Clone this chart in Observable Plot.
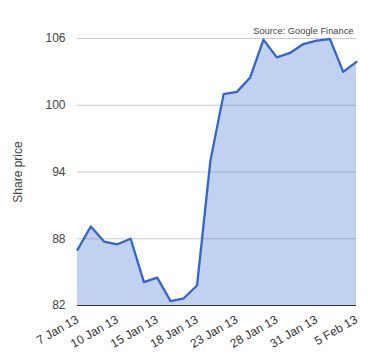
<!DOCTYPE html>
<html>
<head>
<meta charset="utf-8">
<script src="https://cdn.jsdelivr.net/npm/d3@7"></script>
<script src="https://cdn.jsdelivr.net/npm/@observablehq/plot@0.6"></script>
<style>
  html, body { margin: 0; padding: 0; background: #fff; }
  svg { display: block; }
</style>
</head>
<body>
<div id="chart"></div>
<script>
const dates = ["7 Jan 13","8 Jan 13","9 Jan 13","10 Jan 13","11 Jan 13","14 Jan 13","15 Jan 13","16 Jan 13","17 Jan 13","18 Jan 13","21 Jan 13","22 Jan 13","23 Jan 13","24 Jan 13","25 Jan 13","28 Jan 13","29 Jan 13","30 Jan 13","31 Jan 13","1 Feb 13","4 Feb 13","5 Feb 13"];
const prices = [87.0, 89.1, 87.75, 87.5, 88.0, 84.1, 84.5, 82.4, 82.65, 83.8, 95.0, 101.0, 101.2, 102.5, 105.9, 104.3, 104.7, 105.5, 105.8, 105.95, 103.0, 103.9];
const xTickIndex = [0, 3, 6, 9, 12, 15, 18, 21];
const yTicks = [82, 88, 94, 100, 106];
const yLabel = "Share price";
const sourceText = "Source: Google Finance";

const data = prices.map((p, i) => ({i, date: dates[i], price: p}));

const chart = Plot.plot({
  width: 380,
  height: 360,
  marginLeft: 77,
  marginRight: 24,
  marginTop: 38,
  marginBottom: 55,
  style: {fontFamily: "Arial, 'Liberation Sans', sans-serif", fontSize: "11px", color: "#444", background: "#fff"},
  x: {type: "linear", domain: [0, dates.length - 1]},
  y: {domain: [82, 106]},
  marks: [
    Plot.gridY(yTicks.filter(t => t !== 82), {stroke: "#ccc", strokeOpacity: 1}),
    Plot.areaY(data, {x: "i", y1: 82, y2: "price", fill: "#3366cc", fillOpacity: 0.3}),
    Plot.ruleY([82], {stroke: "#333", strokeWidth: 1}),
    Plot.lineY(data, {x: "i", y: "price", stroke: "#3366cc", strokeWidth: 2.3}),
    Plot.axisY(yTicks, {tickSize: 0, tickPadding: 12, fontSize: 12, label: null, fill: "#444"}),
    Plot.axisY({ticks: [], tickSize: 0, label: yLabel, labelAnchor: "center", labelArrow: "none", labelOffset: 64, fontSize: 12, fill: "#444"}),
    Plot.axisX(xTickIndex, {tickSize: 0, tickPadding: 13, tickRotate: -30, fontSize: 12, tickFormat: i => dates[i], label: null, fill: "#333"}),
    Plot.text([sourceText], {frameAnchor: "top-right", text: d => d, dy: -11, dx: -3, fontSize: 9.3, fill: "#444", textAnchor: "end", style: "letter-spacing: 0.2px"})
  ]
});
document.getElementById("chart").appendChild(chart);
</script>
</body>
</html>
